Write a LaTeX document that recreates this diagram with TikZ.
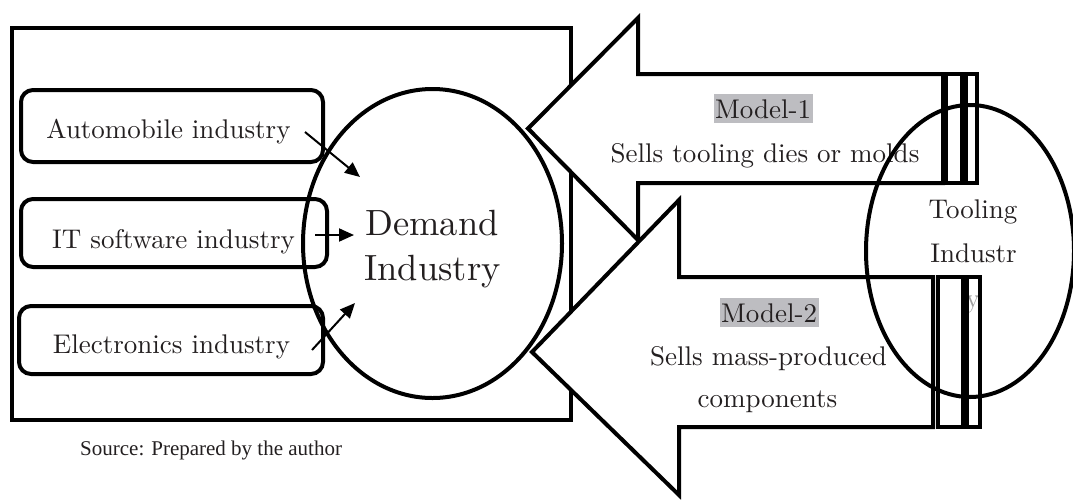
\documentclass[tikz,border=0pt]{standalone}
\usepackage{fontspec}
\setmainfont{lmroman10-regular}[Extension=.otf]
\newfontfamily\srcfont{Liberation Serif}
\usetikzlibrary{arrows.meta,shapes.geometric}
\definecolor{hl}{RGB}{189,189,193}
\definecolor{ink}{RGB}{35,31,32}
\begin{document}
\begin{tikzpicture}[x=1pt,y=-1pt,
  frame/.style={draw=black, line width=4pt, inner sep=0pt},
  ibox/.style={draw=black, line width=4pt, rounded corners=12pt, inner sep=0pt},
  oval/.style={draw=black, ellipse, line width=4pt, inner sep=0pt},
  bigarrow/.style={draw=black, fill=white, line width=4pt, line join=miter},
  barline/.style={draw=black, line width=3.5pt},
  txt/.style={font=\fontsize{27}{32}\selectfont, text=ink, inner sep=0pt, anchor=base},
  bigtxt/.style={font=\fontsize{36.5}{44}\selectfont, text=ink, inner sep=0pt, anchor=base},
  tag/.style={txt, fill=hl, text height=23pt, text depth=4pt, inner xsep=1.5pt, inner ysep=1pt},
  link/.style={draw=black, line width=2pt, -{Triangle[length=15pt,width=13pt]}}
]
\useasboundingbox (0,0) rectangle (1073,499);
% left frame and industry boxes
\node[frame, minimum width=559, minimum height=392] (outer) at (291.5,224) {};
\node[ibox, minimum width=302, minimum height=72] (autobox) at (172,126) {};
\node[ibox, minimum width=306, minimum height=68] (itbox) at (174,233) {};
\node[ibox, minimum width=304, minimum height=68] (elecbox) at (171,340) {};
\node[txt] (autotxt) at (168.5,138) {Automobile industry};
\node[txt] (ittxt) at (173.5,248) {IT software industry};
\node[txt] (electxt) at (171.5,353) {Electronics industry};
% demand ellipse
\node[oval, minimum width=259, minimum height=309] (demand) at (432.5,243.5) {};
\node[bigtxt] (dem1) at (432,235) {Demand};
\node[bigtxt] (dem2) at (432.5,280) {Industry};
% small arrows
\coordinate (a1s) at (305,132);
\coordinate (a1e) at (360,177);
\coordinate (a2s) at (315,235);
\coordinate (a2e) at (354,235);
\coordinate (a3s) at (312,350);
\coordinate (a3e) at (355,303);
\draw[link] (a1s) -- (a1e);
\draw[link] (a2s) -- (a2e);
\draw[link] (a3s) -- (a3e);
% big arrows
\draw[bigarrow] (528,128.5) -- (638,18) -- (638,74) -- (943,74) -- (943,183) -- (638,183) -- (638,240) -- cycle;
\draw[bigarrow] (532,352) -- (679,200) -- (679,277) -- (933,277) -- (933,427) -- (679,427) -- (679,495) -- cycle;
% text under bars
\node[txt, text=gray!75] (ytxt) at (973,307) {y};
% bars
\draw[barline] (946,74) rectangle (962,183);
\draw[barline] (966,74) rectangle (977,183);
\draw[barline] (938,277) rectangle (963,427);
\draw[barline] (967,277) rectangle (980,427);
% arrow labels
\node[tag] (m1tag) at (763,118.3) {Model-1};
\node[txt] (m1txt) at (765,162) {Sells tooling dies or molds};
\node[tag] (m2tag) at (769,322) {Model-2};
\node[txt] (m2txt) at (768.5,365) {Sells mass-produced};
\node[txt] (m2txt2) at (767.5,407) {components};
% tooling ellipse
\node[oval, minimum width=208, minimum height=292] (tooling) at (970,251) {};
\node[txt] (tool1) at (973,218) {Tooling};
\node[txt] (tool2) at (973.5,262) {Industr};
% source
\node[anchor=base west, inner sep=0pt, text=ink, font=\srcfont\fontsize{21}{25}\selectfont] (src) at (80,455) {Source: Prepared by the author};
\end{tikzpicture}
\end{document}
